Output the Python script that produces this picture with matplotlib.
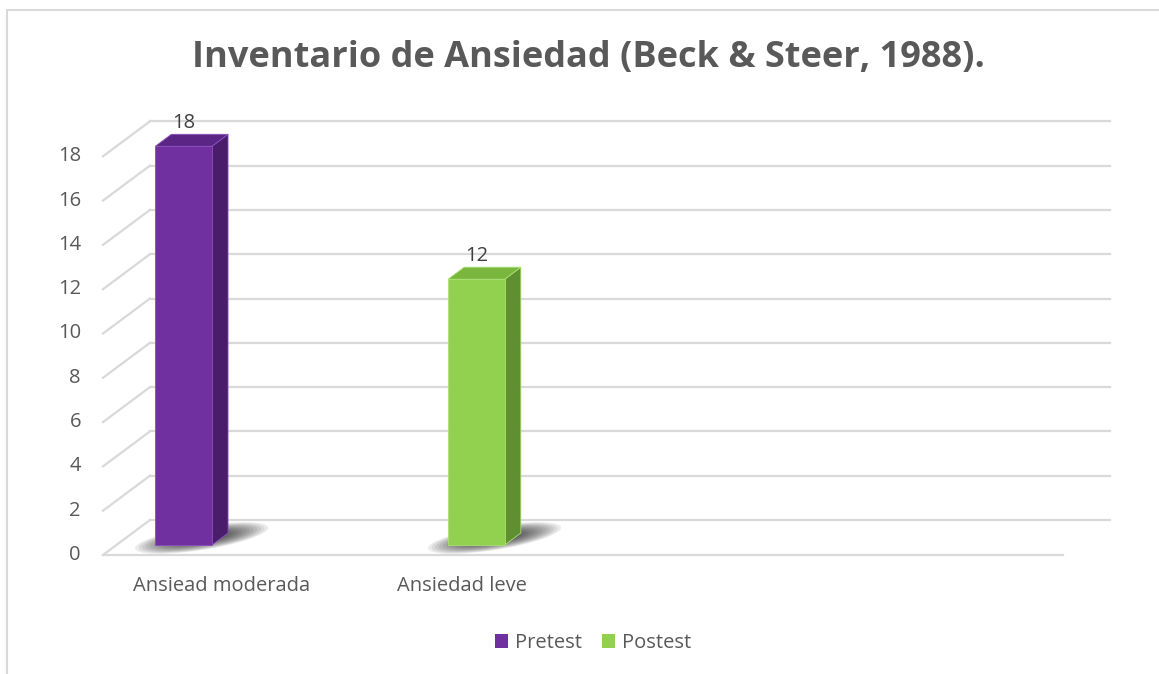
import numpy as np
import matplotlib
matplotlib.use("Agg")
import matplotlib.pyplot as plt
from matplotlib.patches import Polygon, Ellipse, Rectangle
from matplotlib.transforms import IdentityTransform
from matplotlib.lines import Line2D

# ---------------- data ----------------
categories = ["Ansiead moderada", "Ansiedad leve", "", ""]
series_names = ["Pretest", "Postest"]
pretest = [18, np.nan, np.nan, np.nan]
postest = [np.nan, 12, np.nan, np.nan]
yticks = [0, 2, 4, 6, 8, 10, 12, 14, 16, 18]
title = "Inventario de Ansiedad (Beck & Steer, 1988)."

# ---------------- style ----------------
FONT = ["Open Sans", "DejaVu Sans"]
plt.rcParams["font.family"] = FONT
W, H = 1159, 674
fig = plt.figure(figsize=(W / 100, H / 100), dpi=100)
fig.patch.set_facecolor("white")

faces = {
    "Pretest": ("#7030A0", "#5B2585", "#4A1D6B", "#8A4FBF"),
    "Postest": ("#92D050", "#79B63E", "#5F8F30", "#A9E070"),
}
series_offset = {"Pretest": -0.22, "Postest": 0.0}
bar_w = 0.236
grid_c = "#D9D9D9"
text_c = "#595959"

# axes = front plane of the bars
left_px, right_px = 116.4, 1076.4
zero_px, unit_px = 545.0, 22.15
ymax = 20
top_px = zero_px - ymax * unit_px
ax = fig.add_axes([left_px / W, (H - zero_px) / H,
                   (right_px - left_px) / W, (zero_px - top_px) / H])
ax.set_xlim(-0.5, len(categories) - 0.5)
ax.set_ylim(0, ymax)
ax.axis("off")

# depth direction (display px)
DX, DY = 47.0, 35.0
T_FRONT = -10.0 / 35.0
def disp(x, y, t):
    px, py = ax.transData.transform((x, y))
    return (px + DX * t, py + DY * t)

t_floor = T_FRONT
t_back = T_FRONT + 1.0
t_bar_back = 12.0 / 35.0

def poly(pts, **kw):
    p = Polygon(pts, closed=True, transform=IdentityTransform(), clip_on=False, **kw)
    ax.add_artist(p)
    return p

def line(p0, p1, **kw):
    l = Line2D([p0[0], p1[0]], [p0[1], p1[1]], transform=IdentityTransform(),
               clip_on=False, **kw)
    ax.add_artist(l)

x0, x1 = ax.get_xlim()
for v in yticks:
    line(disp(x0, v, t_back), disp(x1, v, t_back), color=grid_c, lw=1.6, zorder=1)
    line(disp(x0, v, t_floor), disp(x0, v, t_back), color=grid_c, lw=1.6, zorder=1)
line(disp(x0, 0, t_floor), disp(x1, 0, t_floor), color=grid_c, lw=1.6, zorder=1)

# y tick labels
for v in yticks:
    px, py = disp(x0, v, t_floor)
    fig.text((px - 22) / W, py / H, str(v), ha="right", va="center",
             fontsize=14.5, color=text_c)

# category labels
for i, c in enumerate(categories):
    if c:
        px, py = disp(i, 0, t_floor)
        fig.text((px - 1) / W, (py - 31) / H, c, ha="center", va="center",
                 fontsize=14.5, color=text_c)

# bars
xs = np.arange(len(categories))
for name, vals in zip(series_names, [pretest, postest]):
    front, top, side, edge = faces[name]
    vals = np.asarray(vals, dtype=float)
    ok = ~np.isnan(vals)
    xpos = (xs + series_offset[name])[ok]
    hv = vals[ok]
    for x, v in zip(xpos, hv):
        xl, xr = x - bar_w / 2, x + bar_w / 2
        # soft shadow on the floor
        cx, cy = disp(x, 0, t_bar_back / 2)
        for k in range(14):
            s = 1.0 - k * 0.055
            e = Ellipse((cx + 10, cy + 1), 135 * s, 24 * s, angle=9,
                        transform=IdentityTransform(), facecolor="black",
                        alpha=0.075, edgecolor="none", zorder=2, clip_on=False)
            ax.add_artist(e)
        poly([disp(xr, 0, 0), disp(xr, v, 0), disp(xr, v, t_bar_back), disp(xr, 0, t_bar_back)],
             facecolor=side, edgecolor=edge, lw=0.6, zorder=3)
        poly([disp(xl, v, 0), disp(xr, v, 0), disp(xr, v, t_bar_back), disp(xl, v, t_bar_back)],
             facecolor=top, edgecolor=edge, lw=0.6, zorder=3)
        tx, ty = disp(x, v, 0)
        fig.text(tx / W, (ty + 23) / H, f"{v:g}", ha="center", va="center",
                 fontsize=14.5, color="#404040")
    ax.bar(xpos, hv, width=bar_w, color=front,
           edgecolor=edge, linewidth=0.6, zorder=4, clip_on=False)

# title
fig.text(588 / W, 1 - 58 / H, title, ha="center", va="center",
         fontsize=26, fontweight="bold", color=text_c)

# legend
handles = [Rectangle((0, 0), 1, 1, facecolor=faces[n][0], edgecolor="none")
           for n in series_names]
fig.legend(handles, series_names, loc="center", bbox_to_anchor=(593 / W, 1 - 643 / H),
           ncol=2, frameon=False, fontsize=14.5, labelcolor=text_c,
           handlelength=0.65, handleheight=0.65, handletextpad=0.35, columnspacing=1.0)

# chart border
fig.add_artist(Rectangle((7 / W, -0.05), 1.2, 1 - 10 / H + 0.05,
                         transform=fig.transFigure, facecolor="none",
                         edgecolor=grid_c, lw=1.5, clip_on=False))

fig.savefig("out.png", dpi=100)
